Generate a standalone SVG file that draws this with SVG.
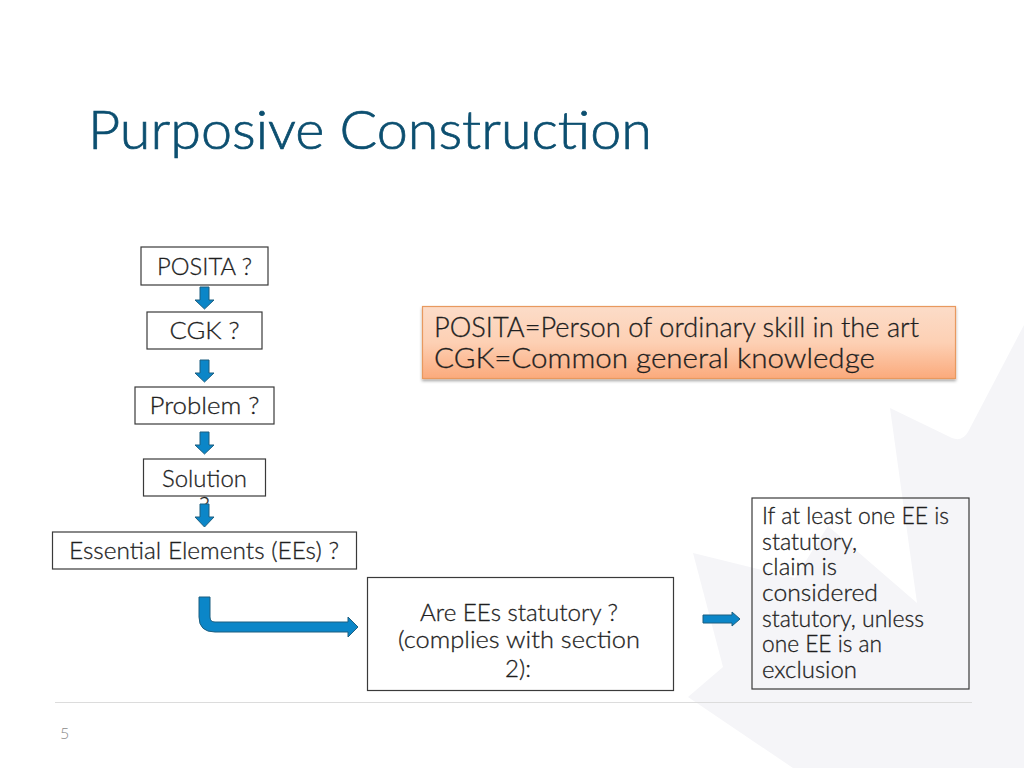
<svg xmlns="http://www.w3.org/2000/svg" width="1024" height="768" viewBox="0 0 1024 768">
<style>
text{font-family:"Lato","Liberation Sans",sans-serif;fill:#1f1f1f;stroke:#1f1f1f;stroke-width:.3px;font-weight:300}
.n{font-size:24px;text-anchor:middle}
.b{fill:#fff;stroke:#3a3a3a;stroke-width:1.2}
.a{fill:#0b86c8;stroke:#1d5f80;stroke-width:1}
.l{font-size:23px}
</style>
<defs>
<linearGradient id="og" x1="0" y1="0" x2="0" y2="1"><stop offset="0" stop-color="#fcdcc8"/><stop offset="0.5" stop-color="#fdd0b4"/><stop offset="1" stop-color="#fbaa7c"/></linearGradient>
<filter id="sh" x="-5%" y="-10%" width="110%" height="125%"><feDropShadow dx="0" dy="2" stdDeviation="1.500" flood-color="#000" flood-opacity="0.35"/></filter>
</defs>
<rect width="1024" height="768" fill="#fff"/>
<path id="watermark" fill="#f5f5f8" d="M1024 325L968 432Q962 442 952 438L890 408L917 603L828 526L795 578L693 553L723 667L688 697L793 768L1024 768Z"/>
<text x="88" y="149" font-size="53" textLength="564" lengthAdjust="spacingAndGlyphs" style="fill:#0c4f70;stroke:#0c4f70;stroke-width:.7px">Purposive Construction</text>
<line x1="55" y1="702.500" x2="972" y2="702.500" stroke="#dcdcdc" stroke-width="1.200"/>
<text x="60" y="739" font-size="16" style="fill:#8a8a8a;stroke:none">5</text>
<g id="posita"><rect class="b" x="141" y="247" width="127" height="38"/><text class="n" x="204.500" y="275" textLength="95" lengthAdjust="spacingAndGlyphs">POSITA ?</text></g>
<g id="cgk"><rect class="b" x="147" y="312" width="115" height="37"/><text class="n" x="204.500" y="339" textLength="70" lengthAdjust="spacingAndGlyphs">CGK ?</text></g>
<g id="problem"><rect class="b" x="135" y="387" width="139" height="37"/><text class="n" x="204.500" y="414" textLength="110" lengthAdjust="spacingAndGlyphs">Problem ?</text></g>
<g id="solution"><rect class="b" x="143.500" y="459" width="122" height="37"/><text class="n" x="204.500" y="487" textLength="85" lengthAdjust="spacingAndGlyphs">Solution</text><text class="n" x="204.500" y="514">?</text></g>
<g id="ees"><rect class="b" x="52.500" y="532" width="304" height="37"/><text class="n" x="204" y="559" textLength="270" lengthAdjust="spacingAndGlyphs">Essential Elements (EEs) ?</text></g>
<g id="note"><rect x="422.500" y="306.500" width="533" height="72" fill="url(#og)" stroke="#e8995f" stroke-width="1.200" filter="url(#sh)"/>
<text x="434" y="337" font-size="27" textLength="485" lengthAdjust="spacingAndGlyphs">POSITA=Person of ordinary skill in the art</text>
<text x="434" y="368" font-size="27" textLength="441" lengthAdjust="spacingAndGlyphs">CGK=Common general knowledge</text></g>
<g id="statutory"><rect class="b" x="367.500" y="577.500" width="306" height="113"/>
<text class="n" x="519" y="621" textLength="198" lengthAdjust="spacingAndGlyphs">Are EEs statutory ?</text><text class="n" x="519" y="648" textLength="242" lengthAdjust="spacingAndGlyphs">(complies with section</text><text class="n" x="518" y="677" textLength="26" lengthAdjust="spacingAndGlyphs">2):</text></g>
<g id="result"><rect x="752" y="498" width="217" height="191" fill="none" stroke="#3a3a3a" stroke-width="1.200"/>
<text class="l" x="762" y="524" textLength="187" lengthAdjust="spacingAndGlyphs">If at least one EE is</text>
<text class="l" x="762" y="550" textLength="95" lengthAdjust="spacingAndGlyphs">statutory,</text>
<text class="l" x="762" y="575" textLength="75" lengthAdjust="spacingAndGlyphs">claim is</text>
<text class="l" x="762" y="601" textLength="116" lengthAdjust="spacingAndGlyphs">considered</text>
<text class="l" x="762" y="627" textLength="162" lengthAdjust="spacingAndGlyphs">statutory, unless</text>
<text class="l" x="762" y="652" textLength="120" lengthAdjust="spacingAndGlyphs">one EE is an</text>
<text class="l" x="762" y="678" textLength="95" lengthAdjust="spacingAndGlyphs">exclusion</text></g>
<g id="connectors">
<path class="a" d="M200 287h9v13h5l-9.500 9-9.500-9h5z"/>
<path class="a" d="M200 360h9v13h5l-9.500 9-9.500-9h5z"/>
<path class="a" d="M200 432h9v13h5l-9.500 9-9.500-9h5z"/>
<path class="a" d="M200 504h9v13h5l-9.500 10-9.500-10h5z"/>
<path class="a" d="M199 597h11v20q0 5 5 5H348v-5l10 10-10 10v-5H215q-16 0-16-15z"/>
<path class="a" d="M703 615h29v-3l8 7-8 7v-3H703z"/>
</g>
</svg>
